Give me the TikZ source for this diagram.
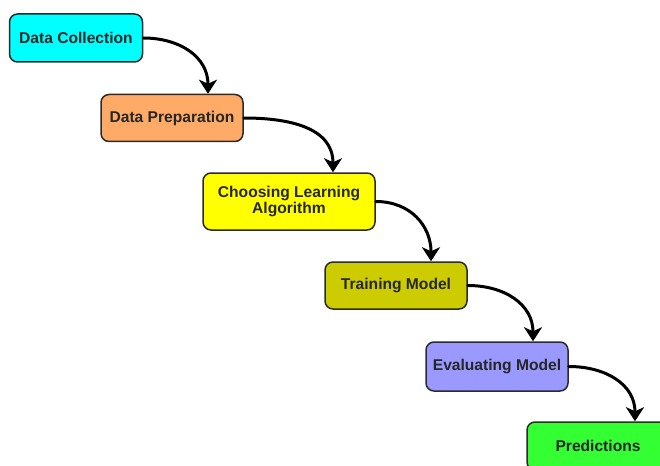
\documentclass[tikz,border=0pt]{standalone}
\usepackage{fontspec}
\setmainfont{Liberation Sans}
\usetikzlibrary{arrows.meta}
\definecolor{cCyan}{HTML}{00FFFF}
\definecolor{cOrange}{HTML}{FFAA66}
\definecolor{cYellow}{HTML}{FFFF00}
\definecolor{cOlive}{HTML}{CCCC00}
\definecolor{cBlue}{HTML}{9999FF}
\definecolor{cGreen}{HTML}{33FF33}
\definecolor{cEdge}{HTML}{2B2B2B}
\tikzset{
  stepbox/.style={draw=cEdge, line width=1.5pt, rounded corners=8pt,
    minimum width=142pt, minimum height=47pt, inner sep=2pt, align=center,
    font=\fontsize{15.6}{16}\selectfont\bfseries, text=black!85},
  flow/.style={line width=3pt, draw=black, -{Stealth[length=14pt,width=18pt,inset=4pt]}, line cap=round}
}
\begin{document}
\begin{tikzpicture}[x=1pt,y=1pt]
\useasboundingbox (0,0) rectangle (660,-465);
\begin{scope}
\clip (0,0) rectangle (660,-465);
\node[stepbox, fill=cCyan, minimum width=133pt, minimum height=48pt] (a) at (76,-38) {Data Collection};
\node[stepbox, fill=cOrange] (b) at (172,-118) {Data Preparation};
\node[stepbox, fill=cYellow, minimum width=172pt, minimum height=57pt] (c) at (289,-201.5) {Choosing Learning\\Algorithm};
\node[stepbox, fill=cOlive] (d) at (396,-285.5) {Training Model};
\node[stepbox, fill=cBlue, minimum height=49pt] (e) at (497,-366.5) {Evaluating Model};
\node[stepbox, fill=cGreen, minimum height=48pt] (f) at (598,-446) {Predictions};
\draw[flow] (a.east) to[out=0,in=90,looseness=1.1] ([xshift=36pt]b.north);
\draw[flow] (b.east) to[out=0,in=90,looseness=1.1] ([xshift=44pt]c.north);
\draw[flow] (c.east) to[out=0,in=90,looseness=1.1] ([xshift=35pt]d.north);
\draw[flow] (d.east) to[out=0,in=90,looseness=1.1] ([xshift=36pt]e.north);
\draw[flow] (e.east) to[out=0,in=90,looseness=1.1] ([xshift=37pt]f.north);
\end{scope}
\end{tikzpicture}
\end{document}
